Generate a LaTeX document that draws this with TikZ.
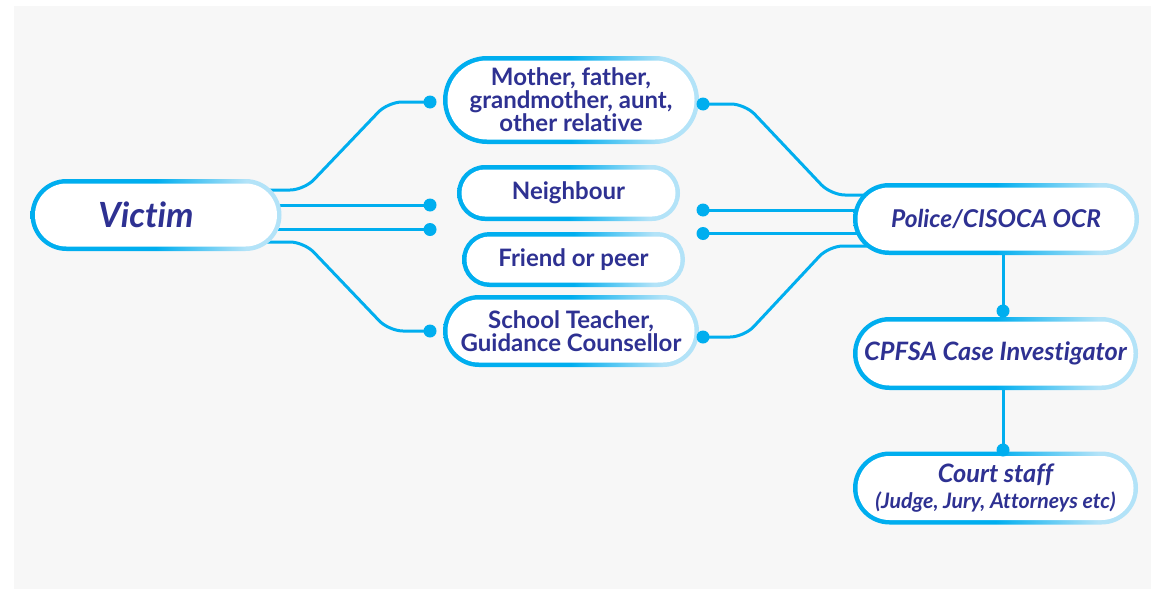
\documentclass[tikz,border=0pt]{standalone}
\usepackage{fontspec}
\setmainfont[Ligatures={NoCommon}]{Lato}
\usetikzlibrary{shapes.misc}
\definecolor{cA}{HTML}{00AEEF}
\definecolor{cB}{HTML}{B3E3F8}
\definecolor{txt}{HTML}{2E3192}
\definecolor{bgc}{HTML}{F7F7F7}
\pgfdeclarehorizontalshading{pillborder}{100bp}{color(0bp)=(cA); color(50bp)=(cA); color(68bp)=(cB); color(100bp)=(cB)}
\pgfdeclarelayer{bg}
\pgfdeclarelayer{lines}
\pgfsetlayers{bg,lines,main}
\begin{document}
\begin{tikzpicture}[x=0.75pt,y=-0.75pt,
  pillout/.style 2 args={rounded rectangle, inner sep=0pt, draw=none,
    minimum width={#1*0.75pt}, minimum height={#2*0.75pt}, shade, shading=pillborder},
  pillin/.style 2 args={rounded rectangle, inner sep=0pt, fill=white, text=txt, align=center,
    minimum width={(#1-9)*0.75pt}, minimum height={(#2-9)*0.75pt}},
  up/.style={font=\bfseries\fontsize{18}{14.2}\selectfont},
  it/.style={font=\bfseries\itshape\fontsize{19}{22}\selectfont},
  conn/.style={draw=cA, line width=2.25pt, rounded corners=10.5pt},
  dot/.style={circle, fill=cA, inner sep=0pt, minimum size=9.75pt}]
\useasboundingbox (0,0) rectangle (1151,589);
\begin{pgfonlayer}{bg}
  \fill[bgc] (14,6) rectangle (1151,589);
\end{pgfonlayer}

% boxes
\node[pillout={251}{72}] (victim) at (156,215) {};
\node[pillin={251}{72}, font=\bfseries\itshape\fontsize{26}{30}\selectfont] (victimt) at (156,215) {Victim\hspace*{15pt}};

\node[pillout={256}{88}] (mother) at (571,100) {};
\node[pillin={256}{88}, up] (mothert) at (571,100) {Mother, father,\\grandmother, aunt,\\other relative};

\node[pillout={223}{56}] (neigh) at (568.5,193) {};
\node[pillin={223}{56}, up] (neight) at (568.5,193) {Neighbour};

\node[pillout={223}{55}] (friend) at (573.5,259.5) {};
\node[pillin={223}{55}, up] (friendt) at (573.5,259.5) {Friend or peer};

\node[pillout={256}{72}] (school) at (571,331) {};
\node[pillin={256}{72}, font=\bfseries\fontsize{18}{15}\selectfont] (schoolt) at (571,331) {School Teacher,\\Guidance Counsellor};

\node[pillout={286}{72}] (police) at (996,219) {};
\node[pillin={286}{72}, font=\bfseries\itshape\fontsize{18.4}{22}\selectfont] (policet) at (996,219) {Police/CISOCA OCR};

\node[pillout={285}{73}] (cpfsa) at (995.5,353.5) {};
\node[pillin={285}{73}, it] (cpfsat) at (995.5,353.5) {CPFSA Case Investigator};

\node[pillout={285}{73}] (court) at (995.5,488) {};
\node[pillin={285}{73}, it] (courtt) at (995.5,488) {Court staff\\[-2pt]{\fontsize{16}{17}\selectfont (Judge, Jury, Attorneys etc)}};

% dots
\node[dot] (dm1) at (430,102) {};
\node[dot] (dv1) at (430,205) {};
\node[dot] (dv2) at (430,229.5) {};
\node[dot] (ds1) at (430,331) {};
\node[dot] (dm2) at (703,104) {};
\node[dot] (dp1) at (703,210) {};
\node[dot] (dp2) at (703,233.5) {};
\node[dot] (ds2) at (703,337) {};
\node[dot] (dc1) at (1003,311) {};
\node[dot] (dj1) at (1003,450) {};

% connectors
\begin{pgfonlayer}{lines}
  \draw[conn] ([shift={(110,-25)}]victim.center) -- (304,190) -- (388,102) -- (dm1.center);
  \draw[conn] (victim.center |- dv1) -- (dv1.center);
  \draw[conn] (victim.center |- dv2) -- (dv2.center);
  \draw[conn] ([shift={(110,27)}]victim.center) -- (304,242) -- (389,331) -- (ds1.center);
  \draw[conn] (dm2.center) -- (745,104) -- (831,195) -- ([shift={(0,-24)}]police.center);
  \draw[conn] (dp1.center) -- (police.center |- dp1);
  \draw[conn] (dp2.center) -- (police.center |- dp2);
  \draw[conn] (ds2.center) -- (744,337) -- (829,246) -- ([shift={(0,27)}]police.center);
  \draw[conn] (dc1 |- police.center) -- (dc1.center);
  \draw[conn] (dj1 |- cpfsa.center) -- (dj1.center);
\end{pgfonlayer}
\end{tikzpicture}
\end{document}
